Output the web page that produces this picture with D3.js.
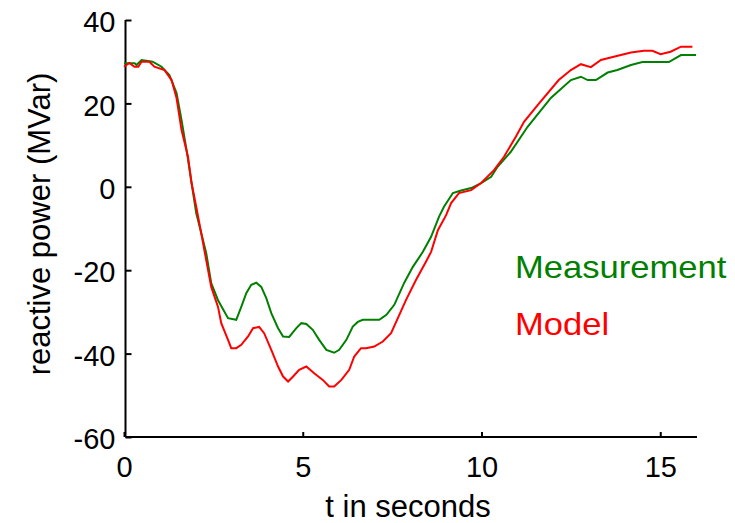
<!DOCTYPE html>
<html><head><meta charset="utf-8">
<script src="https://cdn.jsdelivr.net/npm/d3@7"></script>
<style>body{margin:0;background:#fff}svg{display:block}text{font-family:"Liberation Sans",Arial,sans-serif}</style>
</head><body>
<svg id="c" width="735" height="523"></svg>
<script>
const measT = [0,0.3,0.35,0.49,0.8,1.05,1.27,1.47,1.61,1.75,1.89,2.02,2.16,2.30,2.44,2.63,2.91,3.14,3.28,3.42,3.56,3.70,3.84,3.98,4.12,4.31,4.45,4.62,4.82,4.96,5.10,5.28,5.46,5.66,5.88,6.02,6.22,6.40,6.54,6.68,7.14,7.34,7.56,7.84,8.08,8.36,8.59,8.81,8.95,9.20,9.43,9.71,9.99,10.27,10.45,10.82,11.29,11.94,12.50,12.78,12.97,13.20,13.53,13.80,14.18,14.50,15.24,15.58,16.0];
const measV = [29.6,29.6,29.2,30.4,30.0,28.8,26.8,22.5,16.0,8.8,0.9,-6.3,-11.1,-15.9,-23.1,-27.2,-31.5,-31.9,-28.8,-25.5,-23.5,-23.0,-24.0,-26.7,-30.3,-33.9,-35.9,-36.0,-33.9,-32.7,-32.9,-34.3,-36.7,-39.1,-39.8,-39.1,-36.7,-33.5,-32.4,-31.9,-31.9,-30.7,-28.3,-23.0,-19.2,-15.6,-12.0,-7.2,-4.8,-1.5,-0.9,-0.3,0.9,2.4,4.8,8.4,14.4,21.3,25.6,26.4,25.6,25.6,27.4,28.0,29.2,29.9,29.9,31.6,31.6];
const modelT = [0,0.15,0.29,0.4,0.49,0.71,0.85,1.13,1.33,1.47,1.61,1.79,1.89,2.02,2.16,2.30,2.44,2.63,2.72,2.91,3.00,3.14,3.28,3.47,3.61,3.78,3.92,4.12,4.31,4.45,4.59,4.73,4.90,5.10,5.32,5.56,5.74,5.88,6.08,6.30,6.44,6.63,6.77,7.00,7.24,7.47,7.66,7.89,8.17,8.45,8.59,8.78,9.01,9.15,9.37,9.71,9.99,10.35,10.63,10.96,11.19,11.57,12.16,12.50,12.78,13.06,13.34,13.70,14.18,14.54,14.78,15.01,15.29,15.58,15.90];
const modelV = [28.8,29.7,28.8,28.8,30.0,30.0,28.8,28.0,25.6,21.3,13.6,7.2,0.9,-4.8,-11.1,-17.6,-24.0,-28.8,-32.7,-36.7,-38.7,-38.7,-37.9,-35.9,-33.9,-33.6,-35.1,-39.1,-43.1,-45.5,-46.7,-45.5,-43.9,-43.1,-44.7,-46.3,-47.9,-47.9,-46.3,-43.9,-40.7,-38.7,-38.7,-38.3,-37.1,-35.1,-31.5,-27.1,-22.3,-17.9,-15.6,-10.4,-6.8,-3.9,-1.5,-0.8,0.9,4.0,7.2,12.0,15.6,19.6,25.6,28.0,29.4,28.7,30.4,31.2,32.2,32.6,32.6,31.8,32.4,33.6,33.6];
const xTicks = [0,5,10,15];
const yTicks = [-60,-40,-20,0,20,40];
const seriesNames = ["Measurement","Model"];
const seriesColors = ["#008000","#ff0000"];
const xLabel = "t in seconds";
const yLabel = "reactive power (MVar)";

const svg = d3.select("#c");
const x = d3.scaleLinear().domain([0,16]).range([124,696]);
const y = d3.scaleLinear().domain([-60,40]).range([437,20]);

const gx = svg.append("g").attr("transform","translate(0,437)")
  .call(d3.axisBottom(x).tickValues(xTicks).tickSizeInner(-5).tickSizeOuter(0).tickPadding(19).tickFormat(d=>String(d)));
const gy = svg.append("g").attr("transform","translate(125.5,0)")
  .call(d3.axisLeft(y).tickValues(yTicks).tickSizeInner(-6).tickSizeOuter(0).tickPadding(10).tickFormat(d=>String(d)));
[gx,gy].forEach(g=>{
  g.select(".domain").attr("stroke","#000").attr("stroke-width",2);
  g.selectAll(".tick line").attr("stroke","#000").attr("stroke-width",2);
  g.selectAll(".tick text").attr("font-size",29).attr("fill","#000").attr("font-family","Liberation Sans, Arial, sans-serif");
});
gx.select(".domain").attr("d","M125.5,0H697");
gy.select(".domain").attr("d","M0,437V20");
gy.selectAll(".tick text").attr("dy","0.40em");

const line = d3.line().x(d=>x(d[0])).y(d=>y(d[1]));
const meas = measT.map((t,i)=>[t,measV[i]]);
const model = modelT.map((t,i)=>[t,modelV[i]]);
svg.append("path").attr("d",line(meas)).attr("fill","none").attr("stroke",seriesColors[0]).attr("stroke-width",2);
svg.append("path").attr("d",line(model)).attr("fill","none").attr("stroke",seriesColors[1]).attr("stroke-width",2);

svg.append("text").attr("x",(x(0)+x(16))/2-2).attr("y",517).attr("text-anchor","middle").attr("font-size",31).attr("fill","#000").text(xLabel);
svg.append("text").attr("transform","translate(50,224) rotate(-90)").attr("text-anchor","middle").attr("font-size",31).attr("fill","#000").text(yLabel);

seriesNames.forEach((n,i)=>{
  svg.append("text").attr("x",515).attr("y",278+57*i).attr("font-size",32).attr("fill",seriesColors[i])
    .attr("transform",`translate(515,0) scale(1.08,1) translate(-515,0)`).text(n);
});
</script>
</body></html>
